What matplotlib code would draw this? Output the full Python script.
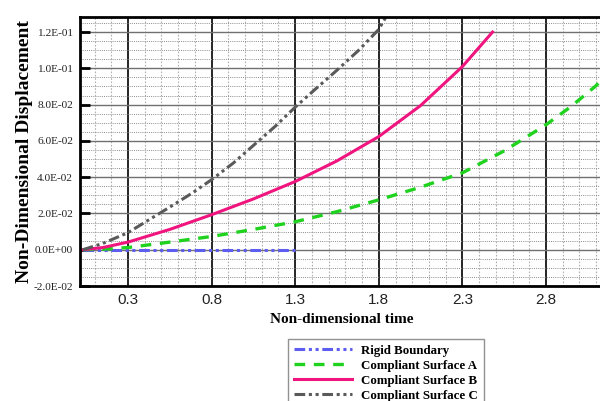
import matplotlib
matplotlib.use("Agg")
import matplotlib.pyplot as plt
from matplotlib.ticker import MultipleLocator, FixedLocator

# ---- data ----
rigid_x = [0.03, 0.3, 0.8, 1.3]
rigid_y = [0.0, 0.0, 0.0, 0.0]

a_x = [0.03, 0.15, 0.3, 0.55, 0.8, 1.05, 1.3, 1.55, 1.8, 2.05, 2.3, 2.55, 2.8, 2.95, 3.1, 3.13]
a_y = [0.0, 0.0003, 0.0012, 0.0042, 0.0073, 0.0112, 0.0154, 0.021, 0.0275, 0.0345, 0.0424, 0.0545, 0.0689, 0.079, 0.0905, 0.0935]

b_x = [0.03, 0.15, 0.3, 0.55, 0.8, 1.05, 1.3, 1.55, 1.8, 2.05, 2.3, 2.48]
b_y = [0.0, 0.0012, 0.0042, 0.0112, 0.0193, 0.028, 0.0376, 0.049, 0.0624, 0.0795, 0.101, 0.12]

c_x = [0.03, 0.15, 0.3, 0.42, 0.55, 0.68, 0.8, 0.93, 1.05, 1.18, 1.3, 1.42, 1.55, 1.68, 1.8, 1.85]
c_y = [0.0, 0.0035, 0.0094, 0.0162, 0.0235, 0.031, 0.0386, 0.0478, 0.0575, 0.068, 0.0786, 0.0885, 0.099, 0.110, 0.1215, 0.1295]

xticks = [0.3, 0.8, 1.3, 1.8, 2.3, 2.8]
xtick_labels = ["0.3", "0.8", "1.3", "1.8", "2.3", "2.8"]
yticks = [-0.02, 0.0, 0.02, 0.04, 0.06, 0.08, 0.10, 0.12]
ytick_labels = ["-2.0E-02", "0.0E+00", "2.0E-02", "4.0E-02", "6.0E-02", "8.0E-02", "1.0E-01", "1.2E-01"]

labels = ["Rigid Boundary", "Compliant Surface A", "Compliant Surface B", "Compliant Surface C"]

# ---- figure ----
fig = plt.figure(figsize=(6.0, 4.01), dpi=100)
ax = fig.add_axes([80/600, 1-286/401, 1-80/600+0.004, (286-17)/401])

ax.set_xlim(0.013, 3.137)
ax.set_ylim(-0.02, 0.1283)

ax.xaxis.set_major_locator(FixedLocator(xticks))
ax.yaxis.set_major_locator(FixedLocator(yticks))
ax.xaxis.set_minor_locator(MultipleLocator(0.1))
ax.yaxis.set_minor_locator(MultipleLocator(0.005))

ax.xaxis.grid(which="minor", color="#b0b0b0", linestyle=(0, (1.5, 1.5)), linewidth=0.8)
ax.yaxis.grid(which="minor", color="#8c8c8c", linestyle=(0, (1, 1.2)), linewidth=0.7)
ax.xaxis.grid(which="major", color="black", linestyle="-", linewidth=1.2)
ax.yaxis.grid(which="major", color="#707070", linestyle="-", linewidth=1.0)
ax.set_axisbelow(True)

l1, = ax.plot(rigid_x, rigid_y, color="#5d5df0", lw=2.2,
              dashes=(3.5, 1.2, 1.0, 1.2, 1.0, 1.2), solid_capstyle="butt")
l2, = ax.plot(a_x, a_y, color="#1ed21e", lw=2.4, dashes=(3.2, 2.6))
l3, = ax.plot(b_x, b_y, color="#f0147f", lw=2.2)
l4, = ax.plot(c_x, c_y, color="#5a5a5a", lw=2.2,
              dashes=(3.5, 1.2, 1.0, 1.2, 1.0, 1.2))

ax.set_xticklabels(xtick_labels, family="Liberation Sans", fontsize=11, color="#222222")
ax.set_yticklabels(ytick_labels, family="Liberation Serif", fontsize=8.2, color="#222222")
ax.tick_params(axis="y", which="major", direction="in", length=7, width=2, pad=5)
ax.tick_params(axis="x", which="major", direction="in", length=0, pad=5)
ax.tick_params(which="minor", length=0)

for s in ax.spines.values():
    s.set_linewidth(2)
    s.set_color("black")

ax.set_ylabel("Non-Dimensional Displacement", family="Liberation Serif",
              fontweight="bold", fontsize=14)
ax.yaxis.set_label_coords(-47/520, 0.5)
ax.set_xlabel("Non-dimensional time", family="Liberation Serif",
              fontweight="bold", fontsize=11)
ax.xaxis.set_label_coords((342.5-80)/524, -(313-286)/269)

leg = fig.legend([l1, l2, l3, l4], labels, loc="upper left",
                 bbox_to_anchor=(288/600, 1-339/401),
                 prop={"family": "Liberation Serif", "weight": "bold", "size": 9.3},
                 frameon=True, fancybox=False, edgecolor="#777777",
                 handlelength=4.5, handletextpad=0.7, labelspacing=0.22,
                 borderpad=0.45, borderaxespad=0)
leg.get_frame().set_linewidth(1.0)

fig.savefig("out.png", dpi=100)
